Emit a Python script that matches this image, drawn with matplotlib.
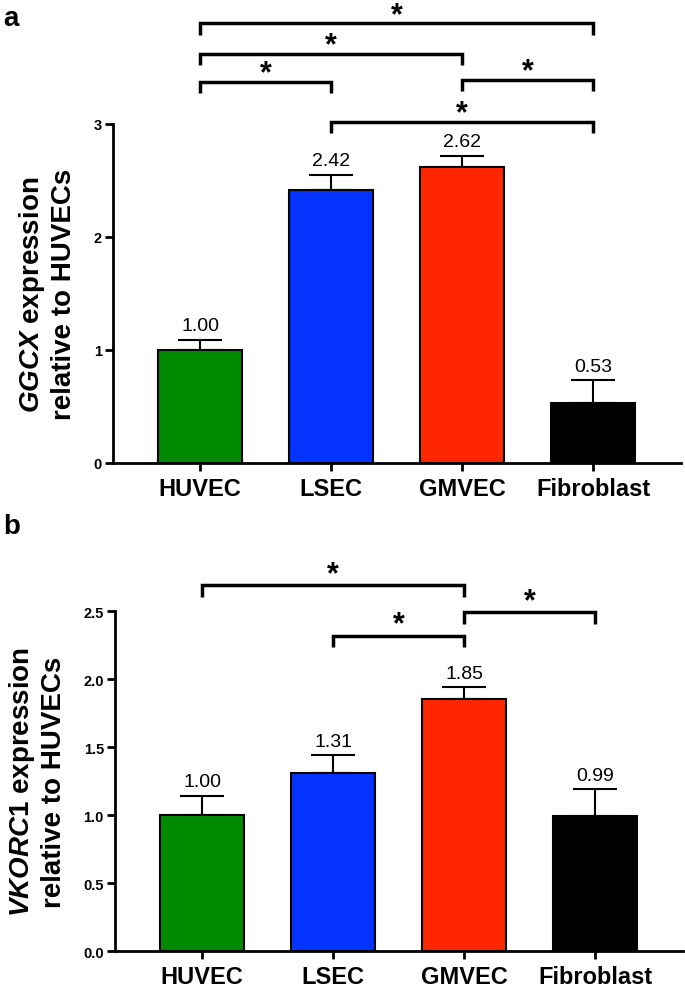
import matplotlib
matplotlib.use("Agg")
import matplotlib.pyplot as plt
import numpy as np

plt.rcParams['font.family'] = 'Liberation Sans'
plt.rcParams['mathtext.fontset'] = 'custom'
plt.rcParams['mathtext.it'] = 'Liberation Sans:italic:bold'
plt.rcParams['mathtext.rm'] = 'Liberation Sans:bold'

cells = ['HUVEC', 'LSEC', 'GMVEC', 'Fibroblast']
colors = ['#008A00', '#0433FF', '#FF2600', '#000000']

# panel a - GGCX
ggcx_mean = [1.00, 2.42, 2.62, 0.53]
ggcx_err = [0.09, 0.13, 0.10, 0.20]
ggcx_sig = [(0, 3, 3.89), (0, 2, 3.62), (0, 1, 3.37), (2, 3, 3.39), (1, 3, 3.02)]

# panel b - VKORC1
vkorc1_mean = [1.00, 1.31, 1.85, 0.99]
vkorc1_err = [0.14, 0.13, 0.09, 0.20]
vkorc1_sig = [(0, 2, 2.69), (2, 3, 2.49), (1, 2, 2.32)]


def panel(ax, mean, err, sig, ylim, yticks, yticklabels, gene, leg, star_off):
    x = np.arange(len(cells))
    ax.bar(x, mean, width=0.64, color=colors, edgecolor='black', linewidth=1.5, zorder=2)
    ax.errorbar(x, mean, yerr=[np.zeros(len(mean)), err], fmt='none', ecolor='black',
                elinewidth=1.5, capsize=16, capthick=1.5, zorder=1)
    for xi, m, e in zip(x, mean, err):
        ax.annotate('%.2f' % m, (xi, m + e), xytext=(0, 4), textcoords='offset points',
                    ha='center', va='bottom', fontsize=14)
    for i, j, h in sig:
        ax.plot([i, i, j, j], [h - leg, h, h, h - leg], color='black', lw=2.5,
                clip_on=False, solid_joinstyle='miter', solid_capstyle='butt')
        ax.text((i + j) / 2, h + star_off, '*', ha='center', va='center',
                fontsize=22, fontweight='bold', clip_on=False)
    ax.set_xlim(-0.664, 3.67)
    ax.set_ylim(*ylim)
    ax.set_yticks(yticks)
    ax.set_yticklabels(yticklabels, fontsize=10.5, fontweight='bold')
    ax.set_xticks(x)
    ax.set_xticklabels(cells, fontsize=17, fontweight='bold')
    ax.spines[['top', 'right']].set_visible(False)
    ax.spines[['left', 'bottom']].set_linewidth(2)
    ax.tick_params(width=2, length=6, pad=2)
    ax.tick_params(axis='x', pad=4)
    ax.set_ylabel(r'$\mathit{%s}$ expression' % gene + '\nrelative to HUVECs',
                  fontsize=20, fontweight='bold', labelpad=12)


fig = plt.figure(figsize=(6.85, 9.95), dpi=100)
ax1 = fig.add_axes([0.165, 0.5337, 0.829, 0.3407])
ax2 = fig.add_axes([0.168, 0.0432, 0.829, 0.3417])

panel(ax1, ggcx_mean, ggcx_err, ggcx_sig, (0, 3), [0, 1, 2, 3], ['0', '1', '2', '3'],
      'GGCX', 0.1, 0.075)
panel(ax2, vkorc1_mean, vkorc1_err, vkorc1_sig, (0, 2.5), [0, 0.5, 1, 1.5, 2, 2.5],
      ['0.0', '0.5', '1.0', '1.5', '2.0', '2.5'], 'VKORC1', 0.085, 0.08)

fig.text(0.005, 1 - 19 / 995, 'a', fontsize=20, fontweight='bold', va='center')
fig.text(0.005, 1 - 527 / 995, 'b', fontsize=20, fontweight='bold', va='center')

plt.savefig('out.png', dpi=100)
